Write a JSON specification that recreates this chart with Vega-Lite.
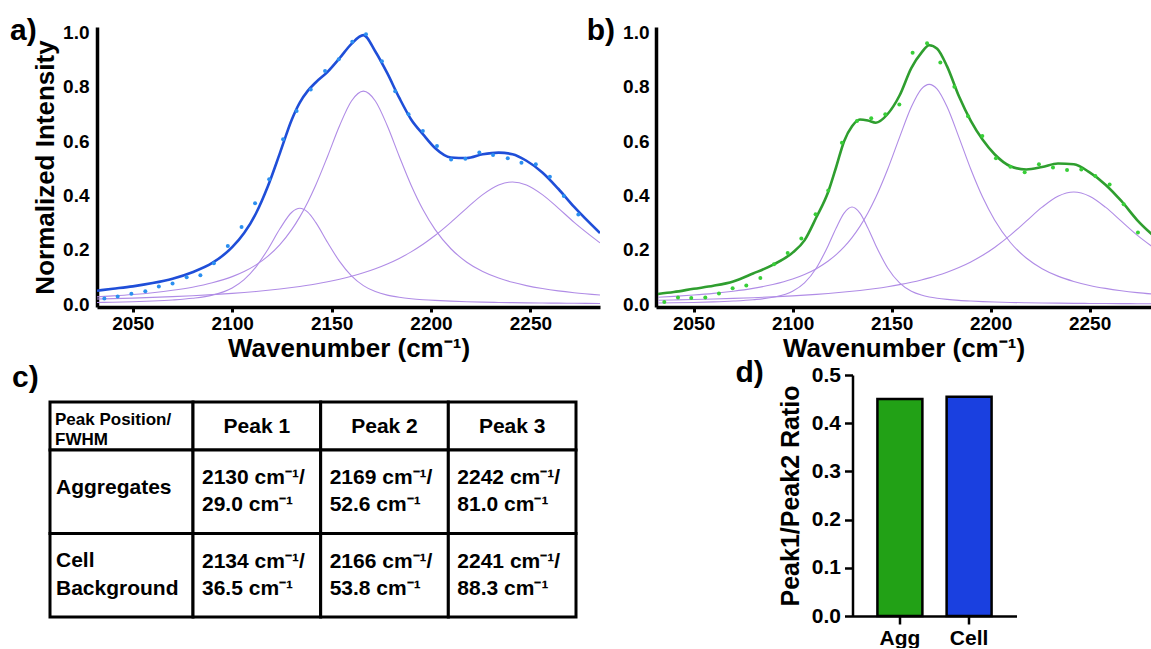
{
  "$schema": "https://vega.github.io/schema/vega-lite/v6.json",
  "background": "white",
  "padding": {"left": 10, "top": 16, "right": 0, "bottom": 0},
  "autosize": {"type": "pad"},
  "config": {
    "font": "Liberation Sans",
    "view": {"stroke": null},
    "axis": {"labelFont": "Liberation Sans", "titleFont": "Liberation Sans", "labelFontWeight": "bold", "titleFontWeight": "bold", "labelColor": "black", "titleColor": "black", "domainColor": "black", "tickColor": "black", "grid": false}
  },
  "datasets": {
    "aCurves": [
      {"w": 2032, "p1": 0.0066, "p2": 0.0273, "p3": 0.0192, "fit": 0.050},
      {"w": 2040, "p1": 0.0077, "p2": 0.0308, "p3": 0.0207, "fit": 0.057},
      {"w": 2050, "p1": 0.0095, "p2": 0.0360, "p3": 0.0228, "fit": 0.066},
      {"w": 2060, "p1": 0.0121, "p2": 0.0427, "p3": 0.0253, "fit": 0.078},
      {"w": 2070, "p1": 0.0159, "p2": 0.0514, "p3": 0.0281, "fit": 0.094},
      {"w": 2080, "p1": 0.0220, "p2": 0.0629, "p3": 0.0315, "fit": 0.118},
      {"w": 2090, "p1": 0.0336, "p2": 0.0789, "p3": 0.0354, "fit": 0.152},
      {"w": 2100, "p1": 0.0601, "p2": 0.1017, "p3": 0.0402, "fit": 0.210},
      {"w": 2106, "p1": 0.0908, "p2": 0.1206, "p3": 0.0435, "fit": 0.262},
      {"w": 2112, "p1": 0.1379, "p2": 0.1451, "p3": 0.0472, "fit": 0.335},
      {"w": 2118, "p1": 0.2027, "p2": 0.1773, "p3": 0.0514, "fit": 0.435},
      {"w": 2124, "p1": 0.2776, "p2": 0.2197, "p3": 0.0561, "fit": 0.556},
      {"w": 2130, "p1": 0.3387, "p2": 0.2755, "p3": 0.0615, "fit": 0.680},
      {"w": 2134, "p1": 0.3530, "p2": 0.3216, "p3": 0.0655, "fit": 0.742},
      {"w": 2138, "p1": 0.3387, "p2": 0.3757, "p3": 0.0698, "fit": 0.785},
      {"w": 2142, "p1": 0.3013, "p2": 0.4380, "p3": 0.0747, "fit": 0.816},
      {"w": 2148, "p1": 0.2272, "p2": 0.5448, "p3": 0.0828, "fit": 0.855},
      {"w": 2154, "p1": 0.1577, "p2": 0.6568, "p3": 0.0922, "fit": 0.905},
      {"w": 2160, "p1": 0.1045, "p2": 0.7479, "p3": 0.1031, "fit": 0.958},
      {"w": 2166, "p1": 0.0687, "p2": 0.7840, "p3": 0.1158, "fit": 0.990},
      {"w": 2172, "p1": 0.0467, "p2": 0.7479, "p3": 0.1307, "fit": 0.930},
      {"w": 2178, "p1": 0.0336, "p2": 0.6568, "p3": 0.1482, "fit": 0.850},
      {"w": 2184, "p1": 0.0257, "p2": 0.5448, "p3": 0.1687, "fit": 0.760},
      {"w": 2190, "p1": 0.0205, "p2": 0.4380, "p3": 0.1928, "fit": 0.680},
      {"w": 2196, "p1": 0.0169, "p2": 0.3476, "p3": 0.2207, "fit": 0.625},
      {"w": 2202, "p1": 0.0142, "p2": 0.2755, "p3": 0.2528, "fit": 0.575},
      {"w": 2210, "p1": 0.0115, "p2": 0.2043, "p3": 0.3014, "fit": 0.540},
      {"w": 2218, "p1": 0.0095, "p2": 0.1548, "p3": 0.3539, "fit": 0.538},
      {"w": 2226, "p1": 0.0080, "p2": 0.1206, "p3": 0.4034, "fit": 0.552},
      {"w": 2234, "p1": 0.0068, "p2": 0.0964, "p3": 0.4390, "fit": 0.558},
      {"w": 2241, "p1": 0.0060, "p2": 0.0807, "p3": 0.4500, "fit": 0.552},
      {"w": 2248, "p1": 0.0053, "p2": 0.0686, "p3": 0.4390, "fit": 0.528},
      {"w": 2256, "p1": 0.0046, "p2": 0.0579, "p3": 0.4034, "fit": 0.485},
      {"w": 2264, "p1": 0.0041, "p2": 0.0494, "p3": 0.3539, "fit": 0.425},
      {"w": 2272, "p1": 0.0036, "p2": 0.0427, "p3": 0.3014, "fit": 0.358},
      {"w": 2285, "p1": 0.0030, "p2": 0.0343, "p3": 0.2258, "fit": 0.262}
    ],
    "aDots": [
      {"w": 2035.7, "v": 0.021}, {"w": 2042.4, "v": 0.029}, {"w": 2049.3, "v": 0.039}, {"w": 2056.3, "v": 0.048},
      {"w": 2063.1, "v": 0.065}, {"w": 2070.0, "v": 0.076}, {"w": 2077.1, "v": 0.099}, {"w": 2084.0, "v": 0.107},
      {"w": 2090.8, "v": 0.151}, {"w": 2097.8, "v": 0.214}, {"w": 2104.7, "v": 0.284}, {"w": 2111.5, "v": 0.372},
      {"w": 2118.6, "v": 0.460}, {"w": 2125.6, "v": 0.607}, {"w": 2132.4, "v": 0.711}, {"w": 2139.5, "v": 0.790},
      {"w": 2146.7, "v": 0.858}, {"w": 2153.6, "v": 0.901}, {"w": 2160.4, "v": 0.966}, {"w": 2167.3, "v": 0.993},
      {"w": 2175.3, "v": 0.894}, {"w": 2182.0, "v": 0.784}, {"w": 2188.7, "v": 0.699}, {"w": 2195.9, "v": 0.637},
      {"w": 2203.0, "v": 0.582}, {"w": 2210.1, "v": 0.533}, {"w": 2217.3, "v": 0.535}, {"w": 2224.3, "v": 0.558},
      {"w": 2231.2, "v": 0.549}, {"w": 2238.6, "v": 0.537}, {"w": 2245.5, "v": 0.521}, {"w": 2252.7, "v": 0.515},
      {"w": 2259.8, "v": 0.469}, {"w": 2266.8, "v": 0.398}, {"w": 2274.1, "v": 0.330}
    ],
    "bCurves": [
      {"w": 2032, "p1": 0.0046, "p2": 0.0259, "p3": 0.0148, "fit": 0.038},
      {"w": 2040, "p1": 0.0054, "p2": 0.0291, "p3": 0.0160, "fit": 0.045},
      {"w": 2050, "p1": 0.0068, "p2": 0.0339, "p3": 0.0176, "fit": 0.057},
      {"w": 2060, "p1": 0.0088, "p2": 0.0400, "p3": 0.0195, "fit": 0.068},
      {"w": 2070, "p1": 0.0119, "p2": 0.0480, "p3": 0.0217, "fit": 0.084},
      {"w": 2080, "p1": 0.0167, "p2": 0.0585, "p3": 0.0243, "fit": 0.113},
      {"w": 2090, "p1": 0.0257, "p2": 0.0727, "p3": 0.0274, "fit": 0.145},
      {"w": 2100, "p1": 0.0480, "p2": 0.0930, "p3": 0.0311, "fit": 0.190},
      {"w": 2106, "p1": 0.0789, "p2": 0.1096, "p3": 0.0336, "fit": 0.235},
      {"w": 2112, "p1": 0.1337, "p2": 0.1310, "p3": 0.0365, "fit": 0.320},
      {"w": 2118, "p1": 0.2166, "p2": 0.1590, "p3": 0.0398, "fit": 0.414},
      {"w": 2122, "p1": 0.2806, "p2": 0.1824, "p3": 0.0422, "fit": 0.505},
      {"w": 2126, "p1": 0.3354, "p2": 0.2109, "p3": 0.0449, "fit": 0.600},
      {"w": 2130, "p1": 0.3580, "p2": 0.2452, "p3": 0.0478, "fit": 0.655},
      {"w": 2134, "p1": 0.3354, "p2": 0.2865, "p3": 0.0509, "fit": 0.680},
      {"w": 2138, "p1": 0.2806, "p2": 0.3357, "p3": 0.0544, "fit": 0.676},
      {"w": 2142, "p1": 0.2166, "p2": 0.3935, "p3": 0.0582, "fit": 0.668},
      {"w": 2148, "p1": 0.1337, "p2": 0.4966, "p3": 0.0647, "fit": 0.700},
      {"w": 2154, "p1": 0.0789, "p2": 0.6140, "p3": 0.0722, "fit": 0.768},
      {"w": 2160, "p1": 0.0480, "p2": 0.7263, "p3": 0.0810, "fit": 0.870},
      {"w": 2165, "p1": 0.0340, "p2": 0.7913, "p3": 0.0895, "fit": 0.925},
      {"w": 2169, "p1": 0.0270, "p2": 0.8090, "p3": 0.0972, "fit": 0.953},
      {"w": 2173, "p1": 0.0222, "p2": 0.7913, "p3": 0.1058, "fit": 0.940},
      {"w": 2178, "p1": 0.0180, "p2": 0.7263, "p3": 0.1181, "fit": 0.875},
      {"w": 2184, "p1": 0.0144, "p2": 0.6140, "p3": 0.1354, "fit": 0.765},
      {"w": 2190, "p1": 0.0119, "p2": 0.4966, "p3": 0.1559, "fit": 0.675},
      {"w": 2196, "p1": 0.0099, "p2": 0.3935, "p3": 0.1803, "fit": 0.605},
      {"w": 2202, "p1": 0.0084, "p2": 0.3101, "p3": 0.2091, "fit": 0.552},
      {"w": 2210, "p1": 0.0068, "p2": 0.2273, "p3": 0.2543, "fit": 0.508},
      {"w": 2218, "p1": 0.0057, "p2": 0.1701, "p3": 0.3057, "fit": 0.496},
      {"w": 2226, "p1": 0.0048, "p2": 0.1310, "p3": 0.3572, "fit": 0.505},
      {"w": 2234, "p1": 0.0041, "p2": 0.1036, "p3": 0.3975, "fit": 0.518},
      {"w": 2242, "p1": 0.0035, "p2": 0.0841, "p3": 0.4130, "fit": 0.515},
      {"w": 2250, "p1": 0.0031, "p2": 0.0694, "p3": 0.3975, "fit": 0.485},
      {"w": 2258, "p1": 0.0027, "p2": 0.0585, "p3": 0.3572, "fit": 0.440},
      {"w": 2266, "p1": 0.0024, "p2": 0.0499, "p3": 0.3057, "fit": 0.380},
      {"w": 2274, "p1": 0.0022, "p2": 0.0430, "p3": 0.2543, "fit": 0.310},
      {"w": 2285, "p1": 0.0019, "p2": 0.0356, "p3": 0.1942, "fit": 0.235}
    ],
    "bDots": [
      {"w": 2035.2, "v": 0.008}, {"w": 2042.1, "v": 0.025}, {"w": 2048.8, "v": 0.023}, {"w": 2055.9, "v": 0.025},
      {"w": 2062.8, "v": 0.040}, {"w": 2069.7, "v": 0.059}, {"w": 2076.6, "v": 0.069}, {"w": 2083.7, "v": 0.097},
      {"w": 2090.6, "v": 0.147}, {"w": 2097.5, "v": 0.189}, {"w": 2104.4, "v": 0.242}, {"w": 2111.6, "v": 0.331},
      {"w": 2118.0, "v": 0.419}, {"w": 2124.9, "v": 0.594}, {"w": 2132.5, "v": 0.674}, {"w": 2139.7, "v": 0.684},
      {"w": 2146.8, "v": 0.699}, {"w": 2153.9, "v": 0.735}, {"w": 2160.6, "v": 0.925}, {"w": 2167.9, "v": 0.960},
      {"w": 2174.6, "v": 0.889}, {"w": 2181.7, "v": 0.800}, {"w": 2188.6, "v": 0.692}, {"w": 2195.8, "v": 0.619},
      {"w": 2202.7, "v": 0.537}, {"w": 2210.0, "v": 0.506}, {"w": 2217.2, "v": 0.486}, {"w": 2224.4, "v": 0.515},
      {"w": 2231.5, "v": 0.503}, {"w": 2238.6, "v": 0.494}, {"w": 2245.8, "v": 0.496}, {"w": 2252.9, "v": 0.472},
      {"w": 2260.1, "v": 0.441}, {"w": 2267.2, "v": 0.368}, {"w": 2274.4, "v": 0.264}
    ]
  },
  "bounds": "full",
  "spacing": -3,
  "vconcat": [
    {
      "bounds": "flush",
      "spacing": 0,
      "hconcat": [
        {
          "width": 47, "height": 26,
          "data": {"values": [{"label": "a)"}]},
          "mark": {"type": "text", "align": "left", "baseline": "alphabetic", "dx": -63.5, "dy": 0, "fontSize": 30, "fontWeight": "bold", "color": "black"},
          "encoding": {"text": {"field": "label"}}
        },
        {
          "width": 503, "height": 280,
          "encoding": {
            "x": {"field": "w", "type": "quantitative", "scale": {"domain": [2032, 2285], "nice": false, "zero": false},
              "axis": {"title": "Wavenumber (cm⁻¹)", "values": [2050, 2100, 2150, 2200, 2250], "format": "d", "labelFontSize": 19, "titleFontSize": 26, "domainWidth": 3.5, "tickWidth": 3, "tickSize": 5, "labelPadding": 2, "titlePadding": 2}},
            "y": {"field": "v", "type": "quantitative", "scale": {"domain": [-0.01, 1.02], "nice": false, "zero": false},
              "axis": {"title": "Normalized Intensity", "values": [0, 0.2, 0.4, 0.6, 0.8, 1.0], "format": ".1f", "ticks": false, "labelFontSize": 19, "titleFontSize": 26, "domainWidth": 3.5, "labelPadding": 8, "titlePadding": 4}}
          },
          "layer": [
            {"data": {"name": "aCurves"}, "transform": [{"fold": ["p1", "p2", "p3"], "as": ["peak", "v"]}],
             "mark": {"type": "line", "color": "#b08ce6", "strokeWidth": 1.1, "interpolate": "monotone", "clip": true},
             "encoding": {"detail": {"field": "peak"}}},
            {"data": {"name": "aCurves"}, "transform": [{"fold": ["fit"], "as": ["peak", "v"]}],
             "mark": {"type": "line", "color": "#1f4ed8", "strokeWidth": 2.6, "interpolate": "monotone", "clip": true},
             "encoding": {}},
            {"data": {"name": "aDots"}, "mark": {"type": "point", "filled": true, "size": 16, "color": "#2b8ff0", "opacity": 1}},
            {"data": {"values": [{"label": "Cell background"}]},
             "mark": {"type": "text", "align": "left", "baseline": "middle", "fontSize": 21, "fontWeight": "bold", "color": "black"},
             "encoding": {"x": {"datum": 2034}, "y": {"datum": 0.985}, "text": {"field": "label"}}}
          ]
        },
        {
          "width": 56, "height": 26,
          "data": {"values": [{"label": "b)"}]},
          "mark": {"type": "text", "align": "left", "baseline": "alphabetic", "dx": -41.3, "dy": 0, "fontSize": 30, "fontWeight": "bold", "color": "black"},
          "encoding": {"text": {"field": "label"}}
        },
        {
          "width": 495, "height": 280,
          "encoding": {
            "x": {"field": "w", "type": "quantitative", "scale": {"domain": [2031, 2281], "nice": false, "zero": false},
              "axis": {"title": "Wavenumber (cm⁻¹)", "values": [2050, 2100, 2150, 2200, 2250], "format": "d", "labelFontSize": 19, "titleFontSize": 26, "domainWidth": 3.5, "tickWidth": 3, "tickSize": 5, "labelPadding": 2, "titlePadding": 2}},
            "y": {"field": "v", "type": "quantitative", "scale": {"domain": [-0.01, 1.02], "nice": false, "zero": false},
              "axis": {"title": null, "values": [0, 0.2, 0.4, 0.6, 0.8, 1.0], "format": ".1f", "ticks": false, "labelFontSize": 19, "domainWidth": 3.5, "labelPadding": 7}}
          },
          "layer": [
            {"data": {"name": "bCurves"}, "transform": [{"fold": ["p1", "p2", "p3"], "as": ["peak", "v"]}],
             "mark": {"type": "line", "color": "#b08ce6", "strokeWidth": 1.1, "interpolate": "monotone", "clip": true},
             "encoding": {"detail": {"field": "peak"}}},
            {"data": {"name": "bCurves"}, "transform": [{"fold": ["fit"], "as": ["peak", "v"]}],
             "mark": {"type": "line", "color": "#2f9e2f", "strokeWidth": 2.6, "interpolate": "monotone", "clip": true},
             "encoding": {}},
            {"data": {"name": "bDots"}, "mark": {"type": "point", "filled": true, "size": 16, "color": "#38cf38", "opacity": 1, "clip": true}},
            {"data": {"values": [{"label": "Aggregates"}]},
             "mark": {"type": "text", "align": "left", "baseline": "middle", "fontSize": 21, "fontWeight": "bold", "color": "black"},
             "encoding": {"x": {"datum": 2034}, "y": {"datum": 0.985}, "text": {"field": "label"}}}
          ]
        }
      ]
    },
    {
      "bounds": "full",
      "spacing": 157.5,
      "hconcat": [
        {
          "bounds": "flush",
          "spacing": 0,
          "hconcat": [
            {
              "width": 143, "height": 242,
              "resolve": {"scale": {"y": "independent"}},
              "layer": [
                {
                  "data": {"values": [{"c": "L", "hr": "h", "t": "Peak Position/\nFWHM"}]},
                  "encoding": {
                    "x": {"field": "c", "type": "nominal", "scale": {"paddingInner": 0, "paddingOuter": 0}, "axis": null},
                    "y": {"field": "hr", "type": "nominal", "scale": {"paddingInner": 0.505, "paddingOuter": 1, "align": 0.1392}, "axis": null}
                  },
                  "layer": [
                    {"mark": {"type": "rect", "fill": "white", "stroke": "black", "strokeWidth": 3}},
                    {"mark": {"type": "text", "align": "left", "baseline": "middle", "dx": 5, "dy": -6, "fontSize": 17, "fontWeight": "bold", "lineBreak": "\n", "lineHeight": 20, "color": "black"},
                     "encoding": {"x": {"field": "c", "type": "nominal", "bandPosition": 0, "axis": null}, "text": {"field": "t"}}}
                  ]
                },
                {
                  "data": {"values": [{"c": "L", "r": "Aggregates"}, {"c": "L", "r": "Cell Background"}]},
                  "encoding": {
                    "x": {"field": "c", "type": "nominal", "scale": {"paddingInner": 0, "paddingOuter": 0}, "axis": null},
                    "y": {"field": "r", "type": "nominal", "scale": {"paddingInner": 0, "paddingOuter": 0.449, "align": 1}, "axis": null}
                  },
                  "layer": [
                    {"mark": {"type": "rect", "fill": "white", "stroke": "black", "strokeWidth": 3}},
                    {"transform": [{"filter": {"field": "r", "equal": "Aggregates"}}],
                     "mark": {"type": "text", "align": "left", "baseline": "middle", "dx": 6, "dy": -4, "fontSize": 21, "fontWeight": "bold", "color": "black"},
                     "encoding": {"x": {"field": "c", "type": "nominal", "bandPosition": 0, "axis": null}, "text": {"field": "r"}}},
                    {"transform": [{"filter": {"field": "r", "equal": "Cell Background"}}],
                     "mark": {"type": "text", "align": "left", "baseline": "middle", "dx": 6, "dy": -14, "fontSize": 21, "fontWeight": "bold", "lineBreak": " ", "lineHeight": 28, "color": "black"},
                     "encoding": {"x": {"field": "c", "type": "nominal", "bandPosition": 0, "axis": null}, "text": {"field": "r"}}}
                  ]
                },
                {
                  "data": {"values": [{"label": "c)"}]},
                  "mark": {"type": "text", "align": "left", "baseline": "alphabetic", "dx": -109.5, "dy": -109, "fontSize": 30, "fontWeight": "bold", "color": "black"},
                  "encoding": {"text": {"field": "label"}}
                }
              ]
            },
            {
              "width": 383, "height": 242,
              "resolve": {"scale": {"y": "independent"}},
              "layer": [
                {
                  "data": {"values": [{"c": "Peak 1", "hr": "h"}, {"c": "Peak 2", "hr": "h"}, {"c": "Peak 3", "hr": "h"}]},
                  "encoding": {
                    "x": {"field": "c", "type": "nominal", "scale": {"paddingInner": 0, "paddingOuter": 0}, "axis": null},
                    "y": {"field": "hr", "type": "nominal", "scale": {"paddingInner": 0.505, "paddingOuter": 1, "align": 0.1392}, "axis": null}
                  },
                  "layer": [
                    {"mark": {"type": "rect", "fill": "white", "stroke": "black", "strokeWidth": 3}},
                    {"mark": {"type": "text", "align": "center", "baseline": "middle", "dy": 1, "fontSize": 21, "fontWeight": "bold", "color": "black"},
                     "encoding": {"text": {"field": "c"}}}
                  ]
                },
                {
                  "data": {"values": [
                    {"c": "Peak 1", "r": "Aggregates", "t": "2130 cm⁻¹/\n29.0 cm⁻¹"},
                    {"c": "Peak 2", "r": "Aggregates", "t": "2169 cm⁻¹/\n52.6 cm⁻¹"},
                    {"c": "Peak 3", "r": "Aggregates", "t": "2242 cm⁻¹/\n81.0 cm⁻¹"},
                    {"c": "Peak 1", "r": "Cell Background", "t": "2134 cm⁻¹/\n36.5 cm⁻¹"},
                    {"c": "Peak 2", "r": "Cell Background", "t": "2166 cm⁻¹/\n53.8 cm⁻¹"},
                    {"c": "Peak 3", "r": "Cell Background", "t": "2241 cm⁻¹/\n88.3 cm⁻¹"}
                  ]},
                  "encoding": {
                    "x": {"field": "c", "type": "nominal", "scale": {"paddingInner": 0, "paddingOuter": 0}, "axis": null},
                    "y": {"field": "r", "type": "nominal", "scale": {"paddingInner": 0, "paddingOuter": 0.449, "align": 1}, "axis": null}
                  },
                  "layer": [
                    {"mark": {"type": "rect", "fill": "white", "stroke": "black", "strokeWidth": 3}},
                    {"mark": {"type": "text", "align": "left", "baseline": "middle", "dx": 9, "dy": -13.5, "fontSize": 21, "fontWeight": "bold", "lineBreak": "\n", "lineHeight": 27, "color": "black"},
                     "encoding": {"x": {"field": "c", "type": "nominal", "bandPosition": 0, "axis": null}, "text": {"field": "t"}}}
                  ]
                }
              ]
            }
          ]
        },
        {
          "width": 164, "height": 241,
          "layer": [
            {"data": {"values": [{"sample": "Agg", "ratio": 0.45}, {"sample": "Cell", "ratio": 0.455}]},
             "mark": {"type": "bar", "stroke": "black", "strokeWidth": 2.5},
             "encoding": {
               "x": {"field": "sample", "type": "nominal", "scale": {"paddingInner": 0.35, "paddingOuter": 0.36},
                 "axis": {"title": null, "labelAngle": 0, "labelFontSize": 21, "tickSize": 8, "tickWidth": 2.5, "domainWidth": 2.5, "labelPadding": 3}},
               "y": {"field": "ratio", "type": "quantitative", "scale": {"domain": [0, 0.5], "nice": false},
                 "axis": {"title": "Peak1/Peak2 Ratio", "values": [0, 0.1, 0.2, 0.3, 0.4, 0.5], "format": ".1f", "labelFontSize": 21, "titleFontSize": 25, "tickSize": 8, "tickWidth": 2.5, "domainWidth": 2.5, "labelPadding": 4, "titlePadding": 8}},
               "color": {"field": "sample", "type": "nominal", "scale": {"domain": ["Agg", "Cell"], "range": ["#22a116", "#1a40e0"]}, "legend": null}
             }},
            {"data": {"values": [{"label": "d)"}]},
             "mark": {"type": "text", "align": "left", "baseline": "alphabetic", "dx": -199, "dy": -113.5, "fontSize": 30, "fontWeight": "bold", "color": "black"},
             "encoding": {"text": {"field": "label"}}}
          ]
        }
      ]
    }
  ]
}
